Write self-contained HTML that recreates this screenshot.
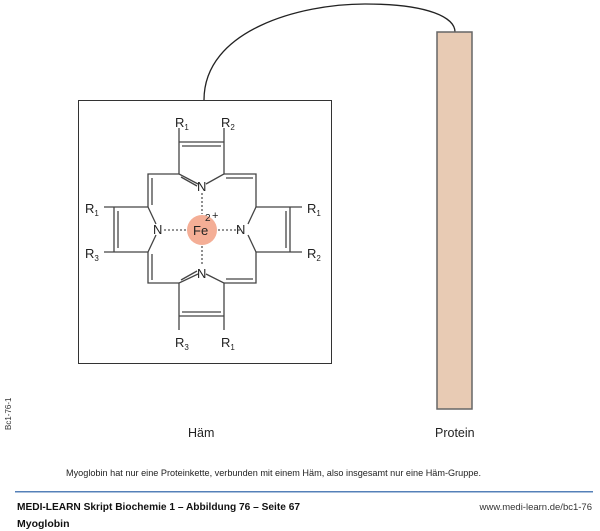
<!DOCTYPE html>
<html><head><meta charset="utf-8"><style>
body{margin:0;background:#fff;}
svg{display:block;font-family:"Liberation Sans",sans-serif;}
</style></head><body>
<svg width="600" height="531" viewBox="0 0 600 531" xmlns="http://www.w3.org/2000/svg">
<path d="M204,100 C204,30 300,4 365,4 C430,4 455,18 455,32" fill="none" stroke="#222" stroke-width="1.3"/>
<rect x="437" y="32" width="35" height="377" fill="#e8cbb4" stroke="#666" stroke-width="1.5"/>
<rect x="78.5" y="100.5" width="253" height="263" fill="#fff" stroke="#333" stroke-width="1"/>
<g stroke="#444" stroke-width="1.3" fill="none">
<path d="M179,128 V142 H224 V128 M179,142 V174 L198,184 M224,142 V174 L206,184"/>
<path d="M182,146 H221"/>
<path d="M181,177 L197,186"/>
<path d="M179,330 V316 H224 V330 M179,316 V283 L198,274 M224,316 V283 L206,274"/>
<path d="M182,312 H221"/>
<path d="M181,280 L197,271"/>
<path d="M104,207 H148 L156,224 M104,252 H148 L156,235 M114,207 V252"/>
<path d="M118,211 V248"/>
<path d="M302,207 H256 L248,224 M302,252 H256 L248,235 M290,207 V252"/>
<path d="M286,211 V248"/>
<path d="M179,174 H148 V207 M224,174 H256 V207 M179,283 H148 V252 M224,283 H256 V252"/>
<path d="M152,178 V205 M226,178 H253 M152,280 V254 M226,279 H253"/>
</g>
<g stroke="#555" stroke-width="1.3" stroke-dasharray="2,2">
<path d="M202,193 V214 M202,246 V266 M164,230 H186 M218,230 H240"/>
</g>
<circle cx="202" cy="230" r="15" fill="#f4ae96"/>
<g font-size="13" fill="#222">
<text x="197" y="191">N</text>
<text x="197" y="278">N</text>
<text x="153" y="234">N</text>
<text x="236" y="234">N</text>
<text x="193" y="235">Fe</text>
<text x="205" y="221" font-size="10">2</text>
<text x="212" y="219" font-size="11">+</text>
<text x="175" y="127">R<tspan font-size="8" dy="3">1</tspan></text>
<text x="221" y="127">R<tspan font-size="8" dy="3">2</tspan></text>
<text x="85" y="213">R<tspan font-size="8" dy="3">1</tspan></text>
<text x="85" y="258">R<tspan font-size="8" dy="3">3</tspan></text>
<text x="307" y="213">R<tspan font-size="8" dy="3">1</tspan></text>
<text x="307" y="258">R<tspan font-size="8" dy="3">2</tspan></text>
<text x="175" y="347">R<tspan font-size="8" dy="3">3</tspan></text>
<text x="221" y="347">R<tspan font-size="8" dy="3">1</tspan></text>
</g>
<text x="188" y="437" font-size="12.5" fill="#222">Häm</text>
<text x="435" y="437" font-size="12.5" fill="#222">Protein</text>
<text x="11" y="430" font-size="8" fill="#333" transform="rotate(-90 11 430)">Bc1-76-1</text>
<text x="66" y="476" font-size="9.5" fill="#222" textLength="415" lengthAdjust="spacingAndGlyphs">Myoglobin hat nur eine Proteinkette, verbunden mit einem Häm, also insgesamt nur eine Häm-Gruppe.</text>
<rect x="15" y="491" width="578" height="1.5" fill="#5580b8"/>
<text x="17" y="510" font-size="10.5" font-weight="bold" fill="#111" textLength="283" lengthAdjust="spacingAndGlyphs">MEDI-LEARN Skript Biochemie 1 – Abbildung 76 – Seite 67</text>
<text x="592" y="510" font-size="9.5" fill="#333" text-anchor="end">www.medi-learn.de/bc1-76</text>
<text x="17" y="527" font-size="10.5" font-weight="bold" fill="#111">Myoglobin</text>
</svg>
</body></html>
